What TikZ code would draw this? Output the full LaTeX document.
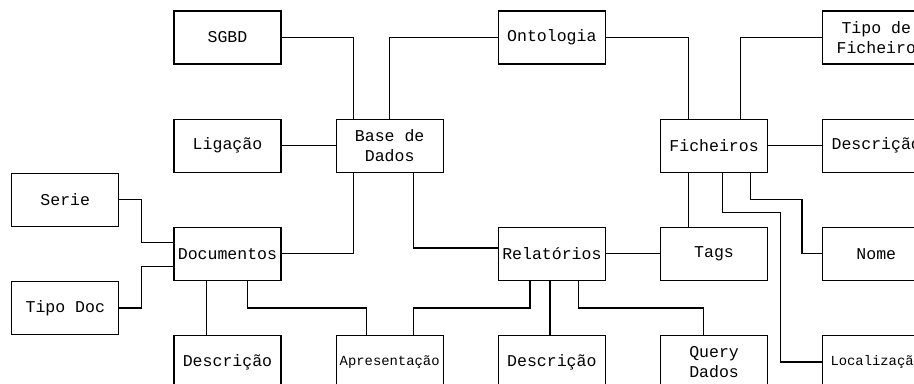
\documentclass[tikz,border=0pt]{standalone}
\usepackage{fontspec}
\setmonofont{Liberation Mono}
\usepackage{tikz}
\usetikzlibrary{positioning}

\begin{document}
\begin{tikzpicture}[
    node distance=40.5pt,
    entity/.style={rectangle, draw=black, line width=0.9pt, fill=white,
                   minimum width=80.25pt, minimum height=39.75pt,
                   inner sep=1pt, align=center,
                   font=\ttfamily\fontsize{12.4}{14.5}\selectfont},
    smalltext/.style={font=\ttfamily\fontsize{10.4}{13}\selectfont},
    lnk/.style={line width=0.9pt, black},
]
\path[use as bounding box, clip] (0,0) rectangle (685.5pt,-287.25pt);

% Left column of entities
\node[entity] at (170.6pt,-28.1pt) (sgbd) {SGBD};
\node[entity, below=of sgbd]  (lig)   {Ligação};
\node[entity, below=of lig]   (docs)  {Documentos};
\node[entity, below=of docs]  (desc1) {Descrição};
\node[entity, above left=0pt and 40.5pt of docs] (serie)   {Serie};
\node[entity, below left=0pt and 40.5pt of docs] (tipodoc) {Tipo Doc};

% Middle: database, reports
\node[entity, right=of lig]    (bd)    {Base de\\Dados};
\node[entity, smalltext, right=of desc1] (apres) {Apresentação};
\node[entity, right=of apres]  (desc2) {Descrição};
\node[entity, above=of desc2]  (rel)   {Relatórios};
\node[entity] at (rel |- sgbd) (onto)  {Ontologia};

% Right: files and their attributes
\node[entity, right=of desc2]  (query) {Query\\Dados};
\node[entity, above=of query]  (tags)  {Tags};
\node[entity, above=of tags]   (fich)  {Ficheiros};
\node[entity, right=of fich]   (descf) {Descrição};
\node[entity, above=of descf]  (tipof) {Tipo de\\Ficheiro};
\node[entity, right=of tags]   (nome)  {Nome};
\node[entity, smalltext, right=of query] (loc) {Localização};

% Links around Base de Dados
\draw[lnk] (sgbd.east) -| ([xshift=-27.4pt]bd.north);
\draw[lnk] (bd.north) |- (onto.west);
\draw[lnk] (lig.east) -- (bd.west);
\draw[lnk] ([xshift=-27.4pt]bd.south) |- (docs.east);
\draw[lnk] ([xshift=17.6pt]bd.south) |- ([yshift=4.4pt]rel.west);

% Links around Documentos
\draw[lnk] (serie.east) -- ++(16.3pt,0) |- ([yshift=8.6pt]docs.west);
\draw[lnk] (tipodoc.east) -- ++(16.3pt,0) |- ([yshift=-9.4pt]docs.west);
\draw[lnk] ([xshift=-15.6pt]docs.south) -- ([xshift=-15.6pt]desc1.north);
\draw[lnk] ([xshift=15.2pt]docs.south) -- ++(0,-20.25pt)
    -| ([xshift=-17.6pt]apres.north);

% Links around Relatorios
\draw[lnk] ([xshift=17.6pt]apres.north) -- ++(0,20.25pt)
    -| ([xshift=-16.4pt]rel.south);
\draw[lnk] ([xshift=-1.4pt]rel.south) -- ([xshift=-1.4pt]desc2.north);
\draw[lnk] ([xshift=19.7pt]rel.south) -- ++(0,-20.25pt)
    -| ([xshift=-7.9pt]query.north);
\draw[lnk] (rel.east) -- (tags.west);

% Links around Ficheiros
\draw[lnk] (onto.east) -| ([xshift=-19.1pt]fich.north);
\draw[lnk] ([xshift=19.7pt]fich.north) |- (tipof.west);
\draw[lnk] (fich.east) -- (descf.west);
\draw[lnk] ([xshift=-19.1pt]fich.south) -- ([xshift=-19.1pt]tags.north);
\draw[lnk] ([xshift=27.2pt]fich.south) -- ++(0,-20.25pt)
    -| ([xshift=-15.2pt]nome.west) -- (nome.west);
\draw[lnk] ([xshift=6.6pt]fich.south) -- ++(0,-29.8pt)
    -| ([xshift=-31.5pt]loc.west) -- (loc.west);

\end{tikzpicture}
\end{document}
